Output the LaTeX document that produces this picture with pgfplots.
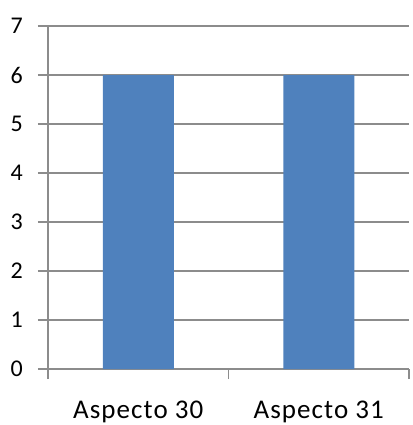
\documentclass[border=0pt]{standalone}
\usepackage{pgfplots}
\pgfplotsset{compat=1.18}
\usepackage{fontspec}
\setmainfont{Carlito}[LetterSpace=4]
\definecolor{barblue}{HTML}{4F81BD}
\definecolor{axgray}{HTML}{8C8C8C}
\begin{document}
\begin{tikzpicture}
\begin{axis}[
  scale only axis, width=361pt, height=343pt,
  xmin=-0.5, xmax=1.5, ymin=0, ymax=7,
  axis x line*=bottom, axis y line*=left,
  axis line style={axgray, line width=1.3pt, -},
  tick align=outside,
  major tick length=10pt,
  tick style={axgray, line width=1.3pt},
  xtick={-0.5,0.5,1.5},
  xticklabels={Aspecto 30, Aspecto 31},
  x tick label as interval,
  ytick={0,1,2,3,4,5,6,7},
  ymajorgrids,
  grid style={axgray, line width=1.3pt},
  /pgf/number format/assume math mode=true,
  ticklabel style={text=black},
  xticklabel style={font=\fontsize{27}{30}\selectfont, anchor=base, inner sep=0pt, yshift=-39pt},
  yticklabel style={font=\fontsize{24}{28}\selectfont, anchor=east, inner sep=0pt, xshift=-15pt},
  ybar, bar width=71pt,
]
\addplot[fill=barblue, draw=none] coordinates {(0,6) (1,6)};
\end{axis}
\path (current axis.south west) ++(-48pt,-56pt) rectangle ([xshift=3pt,yshift=26pt]current axis.north east);
\end{tikzpicture}
\end{document}
